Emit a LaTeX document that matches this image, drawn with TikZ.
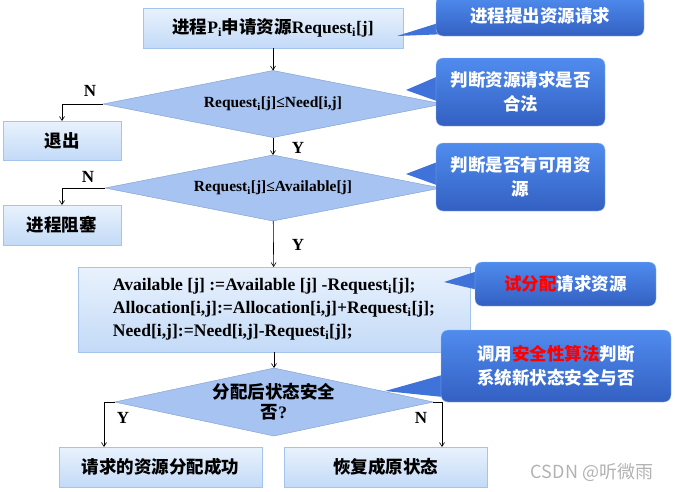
\documentclass[tikz,border=0pt]{standalone}
\usepackage{fontspec}
\setmainfont{Liberation Serif}
\newfontfamily\cjk{Noto Sans CJK SC}
\usetikzlibrary{positioning,shapes.geometric,arrows.meta}
\newcommand{\zh}[1]{{\cjk #1}}
\newcommand{\idx}[1]{\textsubscript{#1}}
\newcommand{\hot}[1]{\textcolor{red}{#1}}
\definecolor{boxTop}{HTML}{E9F2FD}
\definecolor{boxBot}{HTML}{C3DAF7}
\definecolor{boxLine}{HTML}{A3C4EC}
\definecolor{diaFill}{HTML}{A6C3F2}
\definecolor{diaLine}{HTML}{7E9CC9}
\definecolor{tipTop}{HTML}{4F8CEE}
\definecolor{tipBot}{HTML}{3360C2}
\definecolor{tipLine}{HTML}{9DBCF0}
\definecolor{tipMid}{HTML}{3F73D9}
\pgfdeclarelayer{mid}
\pgfdeclarelayer{front}
\pgfsetlayers{main,mid,front}

\begin{document}
\begin{tikzpicture}[x=1pt,y=-1pt,
	box/.style={rectangle, draw=boxLine, top color=boxTop, bottom color=boxBot, outer sep=0, inner sep=2pt, minimum height=40pt, font=\bfseries\fontsize{17.5}{20}\selectfont},
	test/.style={diamond, draw=diaLine, fill=diaFill, aspect=5, outer sep=0, inner sep=1pt, align=center, font=\bfseries\fontsize{15.5}{20}\selectfont},
	bubble/.style={rectangle, rounded corners=7pt, draw=tipLine, top color=tipTop, bottom color=tipBot, text=white, align=center, font=\bfseries\fontsize{17.5}{24}\selectfont},
	tail/.style={fill=tipMid},
	arr/.style={-{Straight Barb[length=4pt,width=5pt]}, black, line width=0.6pt},
	yn/.style={font=\bfseries\fontsize{17}{20}\selectfont}
]
\useasboundingbox (0,0) rectangle (675,491);

% flow
\node[box, minimum width=260pt] (req) at (273,28) {\zh{进程}P\idx{i}\zh{申请资源}Request\idx{i}[j]};
\node[test, minimum width=340pt, minimum height=67pt] (d1) at (273,104) {Request\idx{i}[j]≤Need[i,j]};
\node[box, minimum width=118pt, minimum height=39pt] (quit) at (62,140.5) {\zh{退出}};
\node[test, minimum width=336pt, minimum height=66pt] (d2) at (273,188) {Request\idx{i}[j]≤Available[j]};
\node[box, minimum width=118pt] (block) at (62,225) {\zh{进程阻塞}};
\node[box, minimum width=392pt, minimum height=85pt, align=left, font=\bfseries\fontsize{17.6}{23}\selectfont] (alloc) at (274,309.5)
	{Available [j] :=Available [j] -Request\idx{i}[j];\\
	 Allocation[i,j]:=Allocation[i,j]+Request\idx{i}[j];\\
	 Need[i,j]:=Need[i,j]-Request\idx{i}[j];};
\node[test, minimum width=274pt, minimum height=68pt, font=\bfseries\fontsize{17.5}{20}\selectfont] (d3) at (274,402) {\zh{分配后状态安全}\\\zh{否}?};
\node[box, minimum width=203pt] (ok) at (160.5,467) {\zh{请求的资源分配成功}};
\node[box, minimum width=203pt] (undo) at (385.5,467) {\zh{恢复成原状态}};

\draw[arr] (req) -- (d1);
\draw[arr] (d1) -- (d2);
\draw[arr] (d2) -- (alloc);
\draw[arr] (alloc) -- (d3);
\draw[arr] (d1.west) -| (quit.north);
\draw[arr] (d2.west) -| (block.north);
\draw[arr] (d3.west) -| ([xshift=-56.5pt]ok.north);
\draw[arr] (d3.east) -| ([xshift=56.5pt]undo.north);

\node[yn] at (90,91) {N};
\node[yn] at (298,148) {Y};
\node[yn] at (88,177) {N};
\node[yn] at (298,245) {Y};
\node[yn] at (123,418) {Y};
\node[yn] at (421,418) {N};

% notes
\begin{pgfonlayer}{front}
\node[bubble, minimum width=208pt, minimum height=40pt] (c1) at (540,16) {\zh{进程提出资源请求}};
\node[bubble, minimum width=169pt, minimum height=68pt] (c2) at (520.5,92) {\zh{判断资源请求是否}\\\zh{合法}};
\node[bubble, minimum width=169pt, minimum height=68pt] (c3) at (520.5,177) {\zh{判断是否有可用资}\\\zh{源}};
\node[bubble, minimum width=181pt, minimum height=44pt] (c4) at (565.5,284) {\zh{\hot{试分配}请求资源}};
\node[bubble, minimum width=230pt, minimum height=72pt] (c5) at (556,366) {\zh{调用\hot{安全性算法}判断}\\\zh{系统新状态安全与否}};
\end{pgfonlayer}
\coordinate (t1) at (397,36);
\coordinate (t2) at (406,90);
\coordinate (t3) at (406,174);
\coordinate (t4) at (444,282);
\coordinate (t5) at (385,391);
\begin{pgfonlayer}{mid}
\foreach \c/\t/\u/\l in {c1/t1/-4/-18, c2/t2/20/-13, c3/t3/19/-12, c4/t4/16/-8, c5/t5/-6/-32} {
	\fill[tail] ([xshift=12pt,yshift=\u pt]\c.west) -- (\t) -- ([xshift=12pt,yshift=\l pt]\c.west) -- cycle;
};
\end{pgfonlayer}

\node[text=gray!60, font=\fontsize{18}{20}\selectfont] (mark) at (592,472) {\zh{CSDN @听微雨}};
\end{tikzpicture}
\end{document}
